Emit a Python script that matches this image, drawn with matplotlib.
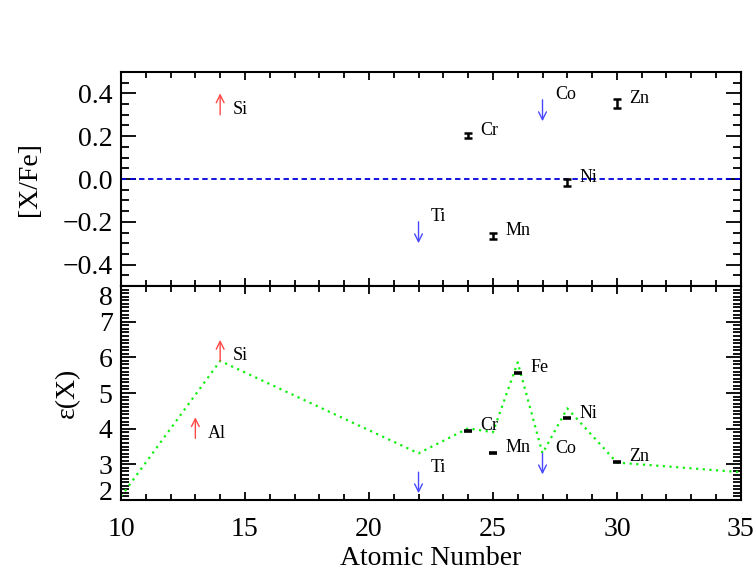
import matplotlib
matplotlib.use("Agg")
import matplotlib.pyplot as plt

plt.rcParams['font.family'] = ['Liberation Serif', 'DejaVu Serif']
plt.rcParams['axes.unicode_minus'] = True

# measured abundances (error bars)
meas_el = ['Cr', 'Mn', 'Ni', 'Zn']
meas_z = [24, 25, 28, 30]
meas_xfe = [0.205, -0.265, -0.016, 0.353]
meas_err = [0.012, 0.013, 0.015, 0.020]

# limits in [X/Fe]
low_el = ['Si']
low_z = [14]
low_xfe = [0.30]
up_el = ['Ti', 'Co']
up_z = [22, 27]
up_xfe = [-0.20, 0.37]
xfe_arrow = 0.10

# epsilon(X) panel
eps_el = ['Cr', 'Mn', 'Fe', 'Ni', 'Zn']
eps_z = [24, 25, 26, 28, 30]
eps_val = [3.94, 3.33, 5.57, 4.29, 3.07]
eps_low_el = ['Al', 'Si']
eps_low_z = [13, 14]
eps_low_val = [3.73, 5.90]
eps_up_el = ['Ti', 'Co']
eps_up_z = [22, 27]
eps_up_val = [2.78, 3.31]
eps_arrow = 0.59

# model curve
model_z = [10, 14, 22, 24, 25, 26, 27, 28, 30, 35]
model_eps = [2.1, 5.9, 3.31, 4.01, 3.9, 5.86, 3.31, 4.57, 3.05, 2.78]

red = '#ff4848'
blue = '#4848ff'
lab_kw = dict(textcoords='offset points', xytext=(9, 3.6), ha='left', va='center', fontsize=13)

fig = plt.figure(figsize=(7.56, 5.74), dpi=100)
ax1 = fig.add_axes([0.160, 0.5017, 0.820, 0.3729])
ax2 = fig.add_axes([0.160, 0.1289, 0.820, 0.3728], sharex=ax1)

# top panel
ax1.axhline(0.0, color='#0000e0', ls=(0, (3, 2)), lw=1.3)
ax1.errorbar(meas_z, meas_xfe, yerr=meas_err, fmt='none', ecolor='k', elinewidth=1.8, capsize=2.8, capthick=1.8)
for el, z, v in zip(meas_el, meas_z, meas_xfe):
    ax1.annotate(el, (z, v), **lab_kw)
for el, z, v in zip(low_el, low_z, low_xfe):
    ax1.annotate('', xy=(z, v + xfe_arrow), xytext=(z, v),
                 arrowprops=dict(arrowstyle='->', color=red, lw=1.0, mutation_scale=14, shrinkA=0, shrinkB=0))
    ax1.annotate(el, (z, v), **lab_kw)
for el, z, v in zip(up_el, up_z, up_xfe):
    ax1.annotate('', xy=(z, v - xfe_arrow), xytext=(z, v),
                 arrowprops=dict(arrowstyle='->', color=blue, lw=1.0, mutation_scale=14, shrinkA=0, shrinkB=0))
    ax1.annotate(el, (z, v), **lab_kw)

ax1.set_ylim(-0.5, 0.5)
ax1.set_yticks([-0.4, -0.2, 0.0, 0.2, 0.4])
ax1.set_yticks([i * 0.05 - 0.5 for i in range(21)], minor=True)
ax1.set_yticklabels(['\u22120.4', '\u22120.2', '0.0', '0.2', '0.4'])
ax1.set_ylabel('[X/Fe]', fontsize=20)
ax1.yaxis.set_label_coords(-0.127, 0.5)
ax1.tick_params(labelbottom=False)

# bottom panel
ax2.plot(model_z, model_eps, color='#10f010', ls=(0, (1, 2)), lw=1.6)
ax2.plot(eps_z, eps_val, ls='none', marker='_', ms=6, mew=2.6, color='k')
for el, z, v in zip(eps_el, eps_z, eps_val):
    ax2.annotate(el, (z, v), **lab_kw)
for el, z, v in zip(eps_low_el, eps_low_z, eps_low_val):
    ax2.annotate('', xy=(z, v + eps_arrow), xytext=(z, v),
                 arrowprops=dict(arrowstyle='->', color=red, lw=1.0, mutation_scale=14, shrinkA=0, shrinkB=0))
    ax2.annotate(el, (z, v), **lab_kw)
for el, z, v in zip(eps_up_el, eps_up_z, eps_up_val):
    ax2.annotate('', xy=(z, v - eps_arrow), xytext=(z, v),
                 arrowprops=dict(arrowstyle='->', color=blue, lw=1.0, mutation_scale=14, shrinkA=0, shrinkB=0))
    ax2.annotate(el, (z, v), **lab_kw)

ax2.set_ylim(2, 8)
ax2.set_yticks([2, 3, 4, 5, 6, 7, 8])
ax2.set_yticks([2 + i * 0.1 for i in range(61)], minor=True)
ax2.set_ylabel('\u03b5(X)', fontsize=20)
ax2.yaxis.set_label_coords(-0.066, 0.5)
ax2.set_xlim(10, 35)
ax2.set_xticks([10, 15, 20, 25, 30, 35])
ax2.set_xticks(range(10, 36), minor=True)
ax2.set_xlabel('Atomic Number', fontsize=20, labelpad=3)

for ax in (ax1, ax2):
    for s in ax.spines.values():
        s.set_linewidth(1.5)
    ax.tick_params(which='both', direction='in', top=True, right=True, labelsize=20, width=1.3)
    ax.tick_params(axis='y', which='major', length=11, pad=6)
    ax.tick_params(axis='y', which='minor', length=6)
    ax.tick_params(axis='x', which='major', length=6, pad=12)
    ax.tick_params(axis='x', which='minor', length=4)

# end labels of the lower y axis sit inside the panel
ylabs = ax2.get_yticklabels()
ylabs[0].set_va('baseline')
ylabs[-1].set_va('top')

fig.savefig('out.png', dpi=100)
